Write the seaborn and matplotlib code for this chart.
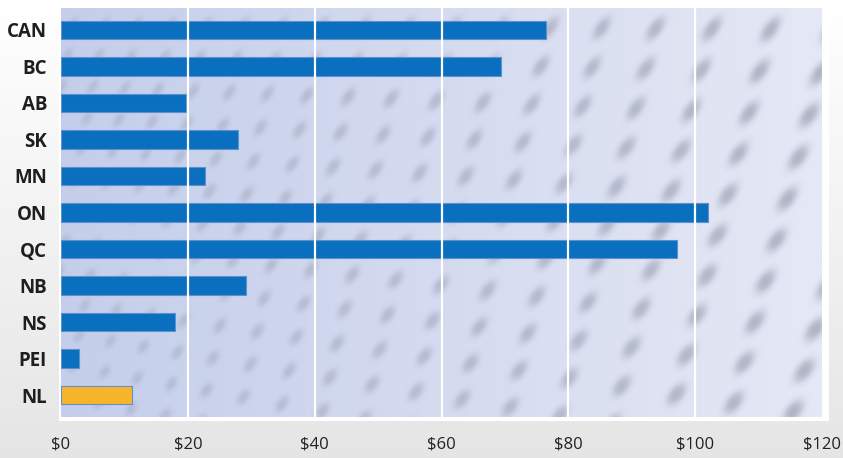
import numpy as np
import pandas as pd
import seaborn as sns
from matplotlib import pyplot as plt
from matplotlib.patches import Rectangle

# Values (dollars)
provinces = ["CAN", "BC", "AB", "SK", "MN", "ON", "QC", "NB", "NS", "PEI", "NL"]
amounts = [76.4, 69.4, 19.7, 27.9, 22.7, 102.1, 97.2, 29.2, 18.0, 2.8, 11.2]
highlight = ["other"] * 10 + ["NL"]
x_ticks = [0, 20, 40, 60, 80, 100, 120]
x_tick_labels = ["$0", "$20", "$40", "$60", "$80", "$100", "$120"]

BLUE = "#0a6fbf"
ORANGE = "#f7b52c"

df = pd.DataFrame({"Province": provinces, "Amount": amounts, "Group": highlight})

sns.set_style("white")
plt.rcParams["font.family"] = ["Open Sans", "DejaVu Sans"]

fig = plt.figure(figsize=(8.43, 4.58), dpi=100)
W, H = 843, 458

# light grey page background with a soft gradient
bg = np.linspace(1.0, 0.90, 60)[:, None] * np.ones((1, 10))
bg_ax = fig.add_axes([0, 0, 1, 1], zorder=-3)
bg_ax.imshow(np.dstack([bg, bg, bg]), aspect="auto", extent=[0, 1, 0, 1])
bg_ax.axis("off")

# white frame around the plotting area
fig.patches.append(Rectangle((59 / W, 1 - 421 / H), 770 / W, 417 / H,
                             transform=fig.transFigure, facecolor="white",
                             edgecolor="none", zorder=-2))

ax = fig.add_axes([61 / W, 1 - 417 / H, (822 - 61) / W, (417 - 8) / H])

# textured blue-grey backdrop of tilted dots (decorative only)
ny, nx = 410, 760
yy, xx = np.mgrid[0:ny, 0:nx].astype(float)
t = xx / nx
base = np.stack([0.77 + 0.13 * t, 0.81 + 0.10 * t, 0.92 + 0.04 * t], axis=-1)
px = 30 + 32 * t[0]                       # column spacing grows to the right
phase_x = np.cumsum(1.0 / px)[None, :] * np.ones((ny, 1))
py = 31 + 12 * t
phase_y = yy / py
u = (((phase_x + 0.18 * phase_y) % 1) - 0.5) * (30 + 32 * t)
v = ((phase_y % 1) - 0.5) * py
ang = np.deg2rad(68)
ru = u * np.cos(ang) - v * np.sin(ang)
rv = u * np.sin(ang) + v * np.cos(ang)
dots = np.exp(-((ru / (7.5 + 6 * t)) ** 2 + (rv / (4.5 + 3.5 * t)) ** 2) ** 1.3)
strength = (0.45 + 0.55 * t)[..., None] * dots[..., None] * 0.65
dot_col = np.array([0.58, 0.60, 0.68])
tex = base * (1 - strength) + dot_col * strength
ax.imshow(tex, aspect="auto", extent=[0, 120, 10.6, -0.6], zorder=0)

sns.barplot(data=df, x="Amount", y="Province", hue="Group", order=provinces,
            palette={"other": BLUE, "NL": ORANGE}, orient="h", width=0.5,
            saturation=1, dodge=False, legend=False, ax=ax, zorder=2,
            edgecolor="#5d90cf", linewidth=0.8)

for xv in x_ticks[1:-1]:
    ax.axvline(xv, color="white", lw=1.6, zorder=3)

ax.set_xlim(0, 120)
ax.set_ylim(10.6, -0.6)
ax.set_xticks(x_ticks)
ax.set_xticklabels(x_tick_labels, fontsize=12, color="#222222")
ax.tick_params(axis="x", length=0, pad=14)
ax.tick_params(axis="y", length=0, pad=10)
for lab in ax.get_yticklabels():
    lab.set_fontsize(13.5)
    lab.set_fontweight("bold")
    lab.set_color("#1e1e1e")
ax.set_xlabel("")
ax.set_ylabel("")
sns.despine(ax=ax, left=True, bottom=True, top=True, right=True)

fig.savefig("out.png", dpi=100)
